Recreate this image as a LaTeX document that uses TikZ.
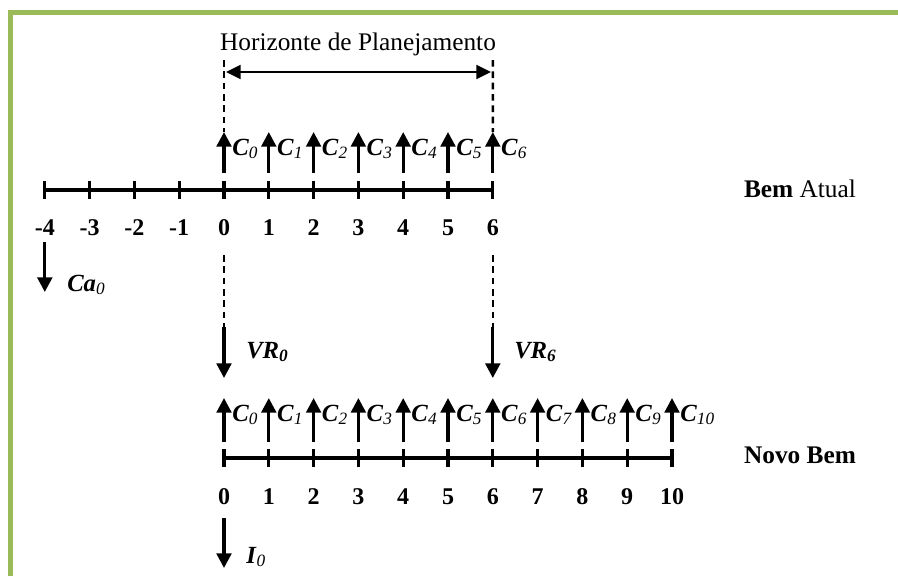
\documentclass[tikz,border=0pt]{standalone}
\usepackage{fontspec}
\setmainfont{Liberation Serif}
\usetikzlibrary{arrows.meta}
\definecolor{framegreen}{HTML}{9BBB59}
\begin{document}
\begin{tikzpicture}[x=0.75pt,y=-0.75pt,
  axis/.style={line width=2.3pt},
  tickmark/.style={line width=2.3pt},
  flow/.style={line width=2.4pt,-{Triangle[length=11pt,width=11pt]}},
  guide/.style={line width=1.8pt,dash pattern=on 5pt off 3.5pt},
  span/.style={line width=1.7pt,{Triangle[length=11pt,width=10.5pt]}-{Triangle[length=11pt,width=10.5pt]}},
  num/.style={font=\fontsize{18}{20}\selectfont\bfseries,inner sep=0pt},
  clab/.style={font=\fontsize{18.5}{20}\selectfont,anchor=west,inner sep=0pt},
  title/.style={font=\fontsize{19}{22}\selectfont,inner sep=0pt}]
\useasboundingbox (0,0) rectangle (898,576);
\fill[white] (0,0) rectangle (898,576);
\draw[framegreen,line width=3.75pt] (10.5,576) -- (10.5,12.5) -- (898,12.5);

% title and planning horizon
\node[title] (hz) at (358,44) {Horizonte de Planejamento};
\coordinate (D0) at (224,60);
\coordinate (D6) at (492.8,60);
\coordinate (H0) at (226,72);
\coordinate (H6) at (491,72);
\draw[span] (H0) -- (H6);

% current asset timeline
\foreach \k [count=\n] in {-4,...,6} {
  \coordinate (T\n) at ({224+44.8*\k},190);
  \draw[tickmark] ([yshift=6.75pt]T\n) -- ([yshift=-6.75pt]T\n);
  \node[num] (N\n) at ({224+44.8*\k},228) {\k};
}
\draw[axis] (T1) -- (T11);
\foreach \k in {0,...,6} {
  \coordinate (U\k) at ({224+44.8*\k},173);
  \coordinate (V\k) at ({224+44.8*\k},132);
  \draw[flow] (U\k) -- (V\k);
  \node[clab] (C\k) at ({232+44.8*\k},149) {\textbf{\textit{C}}\textsubscript{\textit{\k}}};
}
\draw[guide] (D0) -- (V0);
\draw[guide] (D6) -- (V6);
\node[title] (ba) at (800,189) {\textbf{Bem} Atual};

% Ca0
\coordinate (ca1) at (44.8,242);
\coordinate (ca2) at (44.8,292);
\draw[flow] (ca1) -- (ca2);
\node[clab] (ca) at (67,285) {\textbf{\textit{Ca}}\textsubscript{\textit{0}}};

% residual values
\coordinate (g0) at (224,255);
\coordinate (g6) at (492.8,255);
\coordinate (r0a) at (224,327);
\coordinate (r0b) at (224,378);
\coordinate (r6a) at (492.8,327);
\coordinate (r6b) at (492.8,378);
\draw[guide] (g0) -- (r0a);
\draw[guide] (g6) -- (r6a);
\draw[flow] (r0a) -- (r0b);
\draw[flow] (r6a) -- (r6b);
\node[clab] (vr0) at (246,352) {\textbf{\textit{VR}}\textsubscript{\textbf{\textit{0}}}};
\node[clab] (vr6) at (514,352) {\textbf{\textit{VR}}\textsubscript{\textbf{\textit{6}}}};

% new asset timeline
\foreach \k in {0,...,10} {
  \coordinate (B\k) at ({224+44.8*\k},458);
  \draw[tickmark] ([yshift=6.75pt]B\k) -- ([yshift=-6.75pt]B\k);
  \node[num] (M\k) at ({224+44.8*\k},497) {\k};
  \coordinate (P\k) at ({224+44.8*\k},442);
  \coordinate (Q\k) at ({224+44.8*\k},398);
  \draw[flow] (P\k) -- (Q\k);
  \node[clab] (E\k) at ({232+44.8*\k},415) {\textbf{\textit{C}}\textsubscript{\textit{\k}}};
}
\draw[axis] (B0) -- (B10);
\node[title] (nb) at (800,455) {\textbf{Novo Bem}};

% investment
\coordinate (i1) at (224,518);
\coordinate (i2) at (224,568);
\draw[flow] (i1) -- (i2);
\node[clab] (inv) at (246,557) {\textbf{\textit{I}}\textsubscript{\textit{0}}};
\end{tikzpicture}
\end{document}
